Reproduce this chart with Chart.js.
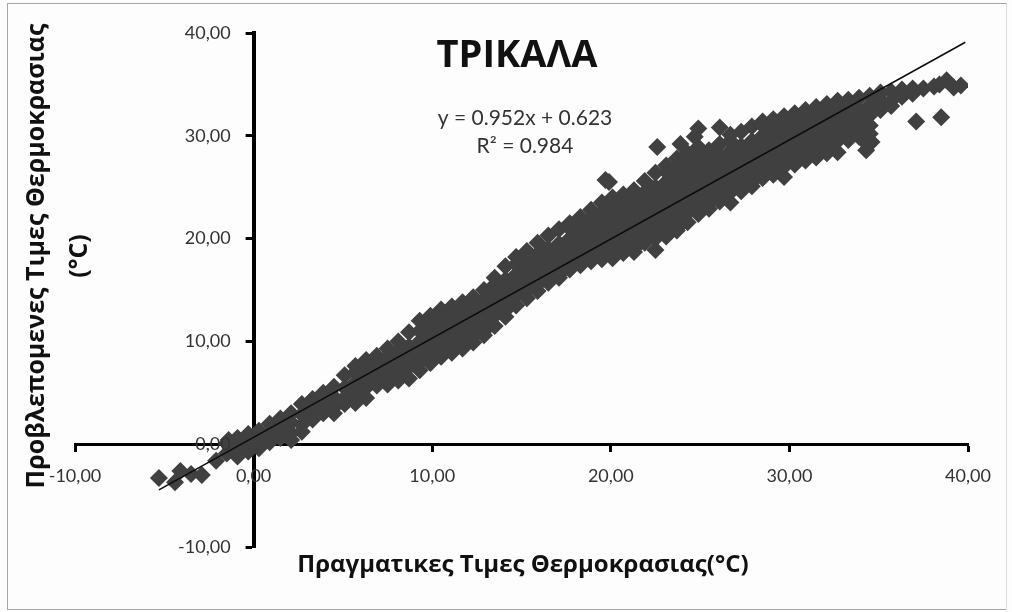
<!DOCTYPE html>
<html>
<head>
<meta charset="utf-8">
<title>ΤΡΙΚΑΛΑ</title>
<script src="https://cdn.jsdelivr.net/npm/chart.js@4"></script>
<style>
    html, body { margin: 0; background: #fdfdfd; overflow: hidden; }
    #frame { position: absolute; left: 7px; top: 3px; width: 998px; height: 605px; border: 1px solid #a8a8a8; border-right-color: #ddd; }
    #plot { position: absolute; left: 0; top: 0; }
</style>
</head>
<body>
<div id="frame"></div>
<canvas id="plot" width="1012" height="612"></canvas>
<script>
// Τιμες διαβασμενες απο την εικονα: για καθε πραγματικη τιμη, οι προβλεπομενες
const columnActual = [
    -1.5, -0.9, -0.3, 0.3, 0.9, 1.5, 2.1, 2.7, 3.3, 3.9, 4.5, 5.1, 5.7, 6.3, 6.9, 7.5, 8.1, 8.7, 9.3, 9.9,
    10.5, 11.1, 11.7, 12.3, 12.9, 13.5, 14.1, 14.7, 15.3, 15.9, 16.5, 17.1, 17.7, 18.3, 18.9, 19.5, 20.1, 20.7, 21.3, 21.9,
    22.5, 23.1, 23.7, 24.3, 24.9, 25.5, 26.1, 26.7, 27.3, 27.9, 28.5, 29.1, 29.7, 30.3, 30.9, 31.5, 32.1, 32.7, 33.3, 33.9,
    34.5, 35.1, 35.7, 36.3, 36.9, 37.5, 38.1
];
const columnPredicted = [
    [0.1, -0.9], [0.6, -0.4, -1.2], [1.0, 0.1, -0.7], [1.3, 0.5, -0.4], [2.0, 1.1, 0.2],
    [2.5, 1.6, 0.6], [3.0, 2.1, 1.1, 0.4], [3.9, 2.9, 1.9, 1.2], [4.4, 3.4, 2.4], [5.0, 4.0, 3.0],
    [5.6, 4.6, 3.6, 3.0], [6.7, 5.5, 4.5, 3.9], [7.6, 7.0, 6.0, 5.0, 4.0], [8.2, 7.5, 6.5, 5.5, 4.5], [8.6, 8.0, 7.0, 6.0, 5.7],
    [9.3, 8.5, 7.5, 6.5, 5.8], [10.0, 9.0, 8.0, 7.0, 6.2], [10.9, 9.5, 8.5, 7.5, 6.4], [12.0, 11.0, 10.0, 9.0, 8.0, 7.2], [12.5, 11.5, 10.5, 9.5, 8.5, 7.9],
    [13.1, 12.0, 11.0, 10.0, 9.0, 8.5], [13.4, 12.5, 11.5, 10.5, 9.5, 8.9], [13.8, 13.0, 12.0, 11.0, 10.0, 9.3], [14.3, 13.5, 12.5, 11.5, 10.5, 9.9], [15.0, 14.0, 13.0, 12.0, 11.0, 10.6],
    [16.2, 15.5, 14.5, 13.5, 12.5, 11.5], [17.3, 16.0, 15.0, 14.0, 13.0, 12.4], [18.2, 17.5, 16.5, 15.5, 14.5, 13.5], [18.8, 18.0, 17.0, 16.0, 15.0, 14.2], [19.6, 18.5, 17.5, 16.5, 15.5, 14.9],
    [20.3, 19.0, 18.0, 17.0, 16.0, 15.7], [20.9, 19.5, 18.5, 17.5, 16.5, 16.2], [21.5, 21.0, 20.0, 19.0, 18.0, 17.0], [22.1, 21.5, 20.5, 19.5, 18.5, 17.4], [22.8, 22.0, 21.0, 20.0, 19.0, 18.0, 17.8],
    [23.5, 22.5, 21.5, 20.5, 19.5, 18.5, 18.0], [24.0, 23.0, 22.0, 21.0, 20.0, 19.0, 18.1], [24.3, 23.5, 22.5, 21.5, 20.5, 19.5, 18.6], [24.7, 24.0, 23.0, 22.0, 21.0, 20.0, 19.0, 18.7], [25.6, 24.5, 23.5, 22.5, 21.5, 20.5, 19.6],
    [26.4, 25.0, 24.0, 23.0, 22.0, 21.0, 20.0, 18.9], [27.1, 26.5, 25.5, 24.5, 23.5, 22.5, 21.5, 20.5, 20.2], [27.8, 27.0, 26.0, 25.0, 24.0, 23.0, 22.0, 21.0, 20.8], [28.3, 27.5, 26.5, 25.5, 24.5, 23.5, 22.5, 21.6], [28.9, 28.0, 27.0, 26.0, 25.0, 24.0, 23.0, 22.4],
    [28.6, 27.5, 26.5, 25.5, 24.5, 23.5, 22.9], [29.2, 28.0, 27.0, 26.0, 25.0, 24.0, 23.6], [30.1, 29.5, 28.5, 27.5, 26.5, 25.5, 24.5, 23.5], [30.4, 29.0, 28.0, 27.0, 26.0, 25.0, 24.6], [30.9, 29.5, 28.5, 27.5, 26.5, 25.5, 25.1],
    [31.4, 31.0, 30.0, 29.0, 28.0, 27.0, 25.9], [31.6, 30.5, 29.5, 28.5, 27.5, 26.5, 26.2], [31.9, 31.0, 30.0, 29.0, 28.0, 27.0, 26.0], [32.2, 31.5, 30.5, 29.5, 28.5, 27.5, 27.2], [32.5, 32.0, 31.0, 30.0, 29.0, 28.0, 27.6],
    [32.8, 32.5, 31.5, 30.5, 29.5, 28.5, 27.9], [33.1, 32.0, 31.0, 30.0, 29.0, 28.3], [33.4, 32.5, 31.5, 30.5, 29.5, 28.4], [33.5, 33.0, 32.0, 31.0, 30.0, 29.6], [33.7, 32.5, 31.5, 30.5, 29.9],
    [33.9, 33.0, 32.0, 31.0, 30.2], [34.2, 33.5, 32.5], [34.3, 33.4, 32.9], [34.5, 33.8], [34.6, 34.1], [34.6], [34.8]
];

// Σημεια εκτος της κυριας ζωνης
const outlierActual = [-5.3, -4.4, -4.1, -3.5, -2.9, -2.1, -1.4, 19.7, 19.9, 22.6, 23.9, 24.7, 24.9, 26.1, 34.4, 34.3, 34.6, 37.1, 38.5, 38.4, 38.8, 39.2, 39.6];
const outlierPredicted = [-3.3, -3.7, -2.6, -2.9, -3.0, -1.6, 0.4, 25.7, 25.5, 28.9, 29.2, 29.9, 30.7, 30.8, 29.1, 28.6, 29.4, 31.4, 31.8, 35.0, 35.4, 34.7, 34.9];

// Extremos de la recta de tendencia
const trendX = [-5.3, 39.85];
const trendY = [-4.45, 39.1];

const axisTicks = [-10, 0, 10, 20, 30, 40];
const chartTitle = "ΤΡΙΚΑΛΑ";
const equationLines = ["y = 0.952x + 0.623", "R² = 0.984"];
const xAxisTitle = "Πραγματικες Τιμες Θερμοκρασιας(°C)";
const yAxisTitle = ["Προβλεπομενες Τιμες Θερμοκρασιας", "(°C)"];

const formatTick = value => value.toFixed(2).replace(".", ",");

const scatterPoints = columnActual.flatMap((x, i) => columnPredicted[i].map(y => ({ x, y })))
    .concat(outlierActual.map((x, i) => ({ x, y: outlierPredicted[i] })));

// El eje Y se lleva a x = 0 despues del layout, asi las marcas y etiquetas quedan a su izquierda
const moveYAxis = {
    id: "moveYAxis",
    afterLayout(chart) {
        const y = chart.scales.y;
        y.left = 0;
        y.right = chart.scales.x.getPixelForValue(0);
    }
};

// Textos sueltos que Chart.js no coloca dentro del area del grafico
const chartTexts = {
    id: "chartTexts",
    afterDraw(chart) {
        const ctx = chart.ctx;
        ctx.save();
        ctx.textAlign = "center";
        ctx.textBaseline = "middle";

        ctx.fillStyle = "#111";
        ctx.font = "bold 38px 'Open Sans'";
        ctx.fillText(chartTitle, 517, 56);

        ctx.fillStyle = "#333";
        ctx.font = "21px Lato";
        ctx.fillText(equationLines[0], 525, 118);
        ctx.fillText(equationLines[1], 525, 146);

        ctx.fillStyle = "#111";
        ctx.font = "bold 24px 'Open Sans'";
        ctx.fillText(xAxisTitle, 523, 565);

        ctx.translate(37, 256);
        ctx.rotate(-Math.PI / 2);
        ctx.font = "bold 25px 'Open Sans'";
        ctx.fillText(yAxisTitle[0], 0, 0);
        ctx.fillText(yAxisTitle[1], 0, 43);
        ctx.restore();
    }
};

const axisLabelFont = { family: "Lato", size: 18 };

new Chart(document.getElementById("plot").getContext("2d"), {
    type: "scatter",
    data: {
        datasets: [
            {
                label: "Trend",
                data: trendX.map((x, i) => ({ x, y: trendY[i] })),
                showLine: true,
                borderColor: "#0c0c0c",
                borderWidth: 1.5,
                pointRadius: 0,
                order: 1
            },
            {
                label: "Temperature",
                data: scatterPoints,
                pointStyle: "rectRot",
                pointRadius: 9,
                pointBackgroundColor: "#404040",
                pointBorderWidth: 0,
                order: 2
            }
        ]
    },
    options: {
        responsive: false,
        animation: false,
        layout: { padding: { left: 75, right: 44, top: 33, bottom: 65 } },
        plugins: { legend: { display: false }, tooltip: { enabled: false } },
        scales: {
            x: {
                type: "linear",
                min: -10,
                max: 40,
                position: { y: 0 },
                afterFit: s => { s.height = 0; s.paddingLeft = 0; s.paddingRight = 0; },
                afterBuildTicks: s => { s.ticks = axisTicks.map(value => ({ value })); },
                border: { color: "#000", width: 3 },
                grid: { drawOnChartArea: false, drawTicks: true, tickLength: 6, tickColor: "#000", tickWidth: 3 },
                ticks: { callback: formatTick, color: "#333", font: axisLabelFont, maxRotation: 0, padding: 15, z: 1 }
            },
            y: {
                type: "linear",
                min: -10,
                max: 40,
                position: "left",
                afterFit: s => { s.width = 0; s.paddingTop = 0; s.paddingBottom = 0; },
                afterBuildTicks: s => { s.ticks = axisTicks.map(value => ({ value })); },
                border: { color: "#000", width: 4 },
                grid: { drawOnChartArea: false, drawTicks: true, tickLength: 8, tickColor: "#000", tickWidth: 3 },
                ticks: { callback: formatTick, color: "#333", font: axisLabelFont, padding: 15, z: 1 }
            }
        }
    },
    plugins: [moveYAxis, chartTexts]
});
</script>
</body>
</html>
